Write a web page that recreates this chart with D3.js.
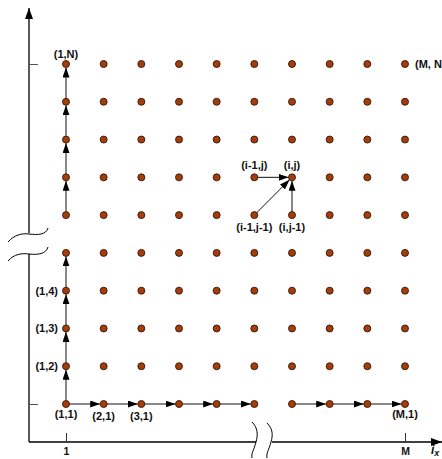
<!DOCTYPE html>
<html><head><meta charset="utf-8">
<script src="https://cdn.jsdelivr.net/npm/d3@7"></script>
<style>body{margin:0;background:#fff}svg{display:block}</style>
</head><body>
<script>
// Data
const colLabels = ["1","2","3","4","5","6","7","8","9","M"];
const rowLabels = ["1","2","3","4","5","6","7","8","9","N"];
const xTickLabels = ["1","M"];
const yTickLabels = ["1","N"];
// arrows along the first column (upward)
const colArrows = [["1","2"],["2","3"],["3","4"],["4","5"],["6","7"],["7","8"],["8","9"],["9","N"]];
// arrows along the first row (rightward)
const rowArrows = [["1","2"],["2","3"],["3","4"],["4","5"],["5","6"],["7","8"],["8","9"],["9","M"]];
// arrows into (i,j): [fromCol, fromRow, toCol, toRow]
const cellArrows = [["6","7","7","7"],["6","6","7","7"],["7","6","7","7"]];
// point labels: [col,row,text,position]
const pointLabels = [
  ["1","N","(1,N)","top"],
  ["M","N","(M, N)","right"],
  ["1","4","(1,4)","left"],
  ["1","3","(1,3)","left"],
  ["1","2","(1,2)","left"],
  ["1","1","(1,1)","bottom"],
  ["2","1","(2,1)","below"],
  ["3","1","(3,1)","below"],
  ["M","1","(M,1)","bottom"],
  ["6","7","(i-1,j)","above"],
  ["7","7","(i,j)","above"],
  ["6","6","(i-1,j-1)","below"],
  ["7","6","(i,j-1)","below"]
];

const W = 442, H = 459;
const svg = d3.select("body").append("svg").attr("width", W).attr("height", H)
  .style("font-family", "Arial, 'Liberation Sans', sans-serif");

const x = d3.scalePoint().domain(colLabels).range([66, 405]);
const y = d3.scalePoint().domain(rowLabels).range([404, 64]);
const axX = 29, axY = 442, R = 3.5;

const defs = svg.append("defs");
defs.append("marker").attr("id","ah").attr("markerUnits","userSpaceOnUse")
  .attr("markerWidth",10).attr("markerHeight",7).attr("refX",10).attr("refY",3.5)
  .attr("orient","auto").append("path").attr("d","M0,0L10,3.5L0,7Z").attr("fill","#000");
defs.append("marker").attr("id","ahAx").attr("markerUnits","userSpaceOnUse")
  .attr("markerWidth",11).attr("markerHeight",8).attr("refX",11).attr("refY",4)
  .attr("orient","auto").append("path").attr("d","M0,0L11,4L0,8Z").attr("fill","#000");

// Axes lines with breaks
const axisG = svg.append("g").attr("stroke","#000").attr("stroke-width",1.3).attr("fill","none");
axisG.append("line").attr("x1",axX).attr("y1",233).attr("x2",axX).attr("y2",8).attr("marker-end","url(#ahAx)");
axisG.append("line").attr("x1",axX).attr("y1",axY).attr("x2",axX).attr("y2",254);
axisG.append("line").attr("x1",axX).attr("y1",axY).attr("x2",256).attr("y2",axY);
axisG.append("line").attr("x1",272).attr("y1",axY).attr("x2",442).attr("y2",axY).attr("marker-end","url(#ahAx)");
// break marks
const brk = svg.append("g").attr("stroke","#000").attr("stroke-width",1).attr("fill","none");
brk.append("path").attr("d",`M8,242 C14,235 22,233 ${axX},234 C38,235 46,235 48,228`);
brk.append("path").attr("d",`M8,261 C14,254 22,253 ${axX},254 C38,255 46,254 48,247`);
brk.append("path").attr("d","M252,422 C258,428 258,435 256,442 C254,450 251,453 252,458");
brk.append("path").attr("d","M267,423 C273,429 273,435 271,442 C269,450 266,453 267,458");

// ticks via d3 axes
const xAxis = d3.axisBottom(x).tickValues(xTickLabels).tickSize(-9).tickPadding(6);
const gx = svg.append("g").attr("transform",`translate(0,${axY})`).call(xAxis);
gx.select(".domain").remove();
gx.selectAll("line").attr("stroke","#333");
gx.selectAll("text").attr("font-size",10.5).attr("font-weight","bold").attr("fill","#111")
  .attr("font-family","Arial, 'Liberation Sans', sans-serif");
const yAxis = d3.axisLeft(y).tickValues(yTickLabels).tickSize(-9).tickFormat("");
const gy = svg.append("g").attr("transform",`translate(${axX},0)`).call(yAxis);
gy.select(".domain").remove();
gy.selectAll("line").attr("stroke","#555");

// axis title i_x
const t = svg.append("text").attr("x",431).attr("y",454).attr("font-size",12)
  .attr("font-weight","bold").attr("font-style","italic").attr("fill","#111").text("i");
t.append("tspan").attr("font-size",9).attr("dy",2).text("x");

// arrows
function arrow(x1,y1,x2,y2){
  const dx=x2-x1, dy=y2-y1, L=Math.hypot(dx,dy);
  const ex=x2-dx/L*R, ey=y2-dy/L*R;
  svg.append("line").attr("x1",x1).attr("y1",y1).attr("x2",ex).attr("y2",ey)
    .attr("stroke","#111").attr("stroke-width",1).attr("marker-end","url(#ah)");
}
colArrows.forEach(([a,b])=>arrow(x("1"),y(a),x("1"),y(b)));
rowArrows.forEach(([a,b])=>arrow(x(a),y("1"),x(b),y("1")));
cellArrows.forEach(([c1,r1,c2,r2])=>arrow(x(c1),y(r1),x(c2),y(r2)));

// dots
const pts = [];
colLabels.forEach(c=>rowLabels.forEach(r=>pts.push([c,r])));
svg.append("g").selectAll("circle").data(pts).join("circle")
  .attr("cx",d=>x(d[0])).attr("cy",d=>y(d[1])).attr("r",R)
  .attr("fill","#a23d0c").attr("stroke","#3a1604").attr("stroke-width",0.9);

// labels
const dyPos = {top:-6, above:-8, below:16, bottom:14, left:4, right:4};
svg.append("g").selectAll("text").data(pointLabels).join("text")
  .attr("font-size",11).attr("font-weight","bold").attr("fill","#111")
  .attr("x",d=>{const px=x(d[0]); return d[3]==="left"?px-8:d[3]==="right"?px+10:px;})
  .attr("y",d=>y(d[1])+dyPos[d[3]])
  .attr("text-anchor",d=>d[3]==="left"?"end":d[3]==="right"?"start":"middle")
  .text(d=>d[2]);
</script>
</body></html>
